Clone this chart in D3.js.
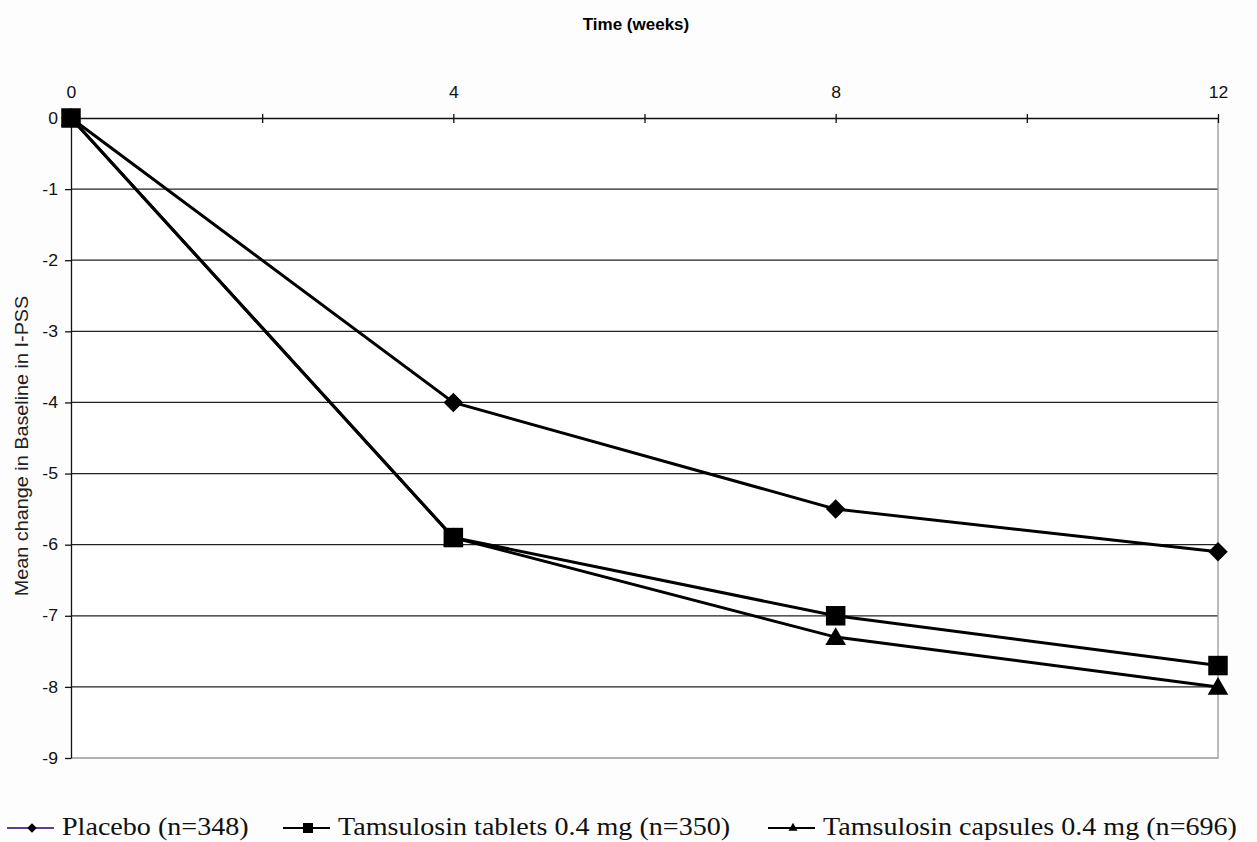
<!DOCTYPE html>
<html>
<head>
<meta charset="utf-8">
<script src="https://cdn.jsdelivr.net/npm/d3@7"></script>
<style>
  body { margin: 0; background: #fdfdfd; }
  svg { display: block; }
</style>
</head>
<body>
<div id="chart"></div>
<script>
// values
const weeks = [0, 4, 8, 12];
const placebo = [0, -4.0, -5.5, -6.1];
const tablets = [0, -5.9, -7.0, -7.7];
const capsules = [0, -5.9, -7.3, -8.0];
const seriesNames = ['Placebo (n=348)', 'Tamsulosin tablets 0.4 mg (n=350)', 'Tamsulosin capsules 0.4 mg (n=696)'];
const xTicks = [0, 2, 4, 6, 8, 10, 12];
const xLabels = [0, 4, 8, 12];
const yTicks = [0, -1, -2, -3, -4, -5, -6, -7, -8, -9];

const width = 1257, height = 842;
const plotLeft = 71, plotRight = 1218, plotTop = 118, plotBottom = 758;
const sans = 'Liberation Sans, Arial, sans-serif';

const svg = d3.select('#chart').append('svg')
  .attr('width', width).attr('height', height);

// the scanned chart text is a bit wider than normal, stretch it a little
function stretch(sel, k) {
  sel.each(function() {
    const w = this.getComputedTextLength();
    if (w > 0) d3.select(this).attr('textLength', w * k).attr('lengthAdjust', 'spacingAndGlyphs');
  });
}

const x = d3.scaleLinear().domain([0, 12]).range([plotLeft, plotRight]);
const y = d3.scaleLinear().domain([0, -9]).range([plotTop, plotBottom]);

svg.append('rect')
  .attr('x', plotLeft).attr('y', plotTop)
  .attr('width', plotRight - plotLeft).attr('height', plotBottom - plotTop)
  .attr('fill', '#fff');

// gridlines
svg.append('g').selectAll('line')
  .data(yTicks.filter(d => d !== 0 && d !== -9))
  .enter().append('line')
    .attr('x1', plotLeft).attr('x2', plotRight)
    .attr('y1', d => y(d)).attr('y2', d => y(d))
    .attr('stroke', '#222').attr('stroke-width', 1.3);

// grey right and bottom border
svg.append('path')
  .attr('d', `M${plotRight},${plotTop}V${plotBottom}H${plotLeft}`)
  .attr('fill', 'none').attr('stroke', '#999').attr('stroke-width', 1.3);

// top x axis
const xAxis = d3.axisTop(x).tickValues(xTicks).tickSizeInner(0).tickSizeOuter(0)
  .tickFormat(d => xLabels.includes(d) ? String(d) : '');
const gx = svg.append('g').attr('transform', `translate(0,${plotTop})`).call(xAxis);
gx.select('.domain').attr('stroke', '#111').attr('stroke-width', 1.3);
gx.selectAll('.tick text').attr('y', -20).attr('dy', 0).attr('font-family', sans)
  .attr('font-size', 16).attr('fill', '#111');
gx.selectAll('.tick line').attr('y1', -4).attr('y2', 5).attr('stroke', '#111').attr('stroke-width', 1.3);
stretch(gx.selectAll('.tick text'), 1.1);

// left y axis
const yAxis = d3.axisLeft(y).tickValues(yTicks).tickSizeInner(6).tickSizeOuter(0).tickPadding(7)
  .tickFormat(d => String(d));
const gy = svg.append('g').attr('transform', `translate(${plotLeft},0)`).call(yAxis);
gy.select('.domain').attr('stroke', '#111').attr('stroke-width', 1.3);
gy.selectAll('.tick line').attr('stroke', '#111').attr('stroke-width', 1.3);
gy.selectAll('.tick text').attr('font-family', sans)
  .attr('font-size', 16).attr('fill', '#111');
stretch(gy.selectAll('.tick text'), 1.1);

const title = svg.append('text')
  .attr('x', 636).attr('y', 30)
  .attr('text-anchor', 'middle')
  .attr('font-family', sans)
  .attr('font-weight', 'bold').attr('font-size', 17)
  .text('Time (weeks)');

const yTitle = svg.append('text')
  .attr('transform', 'translate(28,446) rotate(-90)')
  .attr('text-anchor', 'middle')
  .attr('font-family', sans)
  .attr('font-size', 18).attr('fill', '#222')
  .text('Mean change in Baseline in I-PSS');
stretch(yTitle, 1.1);

// series
const diamond = {draw: (ctx, size) => {
  const r = Math.sqrt(size / 2);
  ctx.moveTo(0, -r); ctx.lineTo(r, 0); ctx.lineTo(0, r); ctx.lineTo(-r, 0); ctx.closePath();
}};

const allSeries = [
  {name: seriesNames[0], values: placebo, shape: diamond, size: 190, legSize: 45, legendColor: '#5b3f9a'},
  {name: seriesNames[1], values: tablets, shape: d3.symbolSquare, size: 380, legSize: 100, legendColor: '#000'},
  {name: seriesNames[2], values: capsules, shape: d3.symbolTriangle, size: 185, legSize: 36, legendColor: '#000'}
];

const line = d3.line().x((d, i) => x(weeks[i])).y(d => y(d));

allSeries.forEach(s => {
  svg.append('path')
    .attr('d', line(s.values))
    .attr('fill', 'none').attr('stroke', '#000').attr('stroke-width', 3);
});

allSeries.forEach(s => {
  svg.append('g').selectAll('path')
    .data(s.values).enter().append('path')
      .attr('d', d3.symbol().type(s.shape).size(s.size))
      .attr('transform', (d, i) => `translate(${x(weeks[i])},${y(d) + (s.shape === d3.symbolTriangle ? 2 : 0)})`)
      .attr('fill', '#000');
});

// legend
const legendX = [7, 283, 768];
const leg = svg.append('g').attr('transform', 'translate(0,828)');
allSeries.forEach((s, i) => {
  const g = leg.append('g').attr('transform', `translate(${legendX[i]},0)`);
  g.append('line').attr('x1', 0).attr('x2', 47).attr('y1', 0).attr('y2', 0)
    .attr('stroke', s.legendColor).attr('stroke-width', 1.8);
  g.append('path').attr('d', d3.symbol().type(s.shape).size(s.legSize))
    .attr('transform', 'translate(25,0)').attr('fill', '#000');
  const t = g.append('text').attr('x', 55).attr('y', 7)
    .attr('font-family', 'Liberation Serif, Times New Roman, serif')
    .attr('font-size', 26).attr('fill', '#111')
    .text(s.name);
  stretch(t, 1.08);
});
</script>
</body>
</html>
